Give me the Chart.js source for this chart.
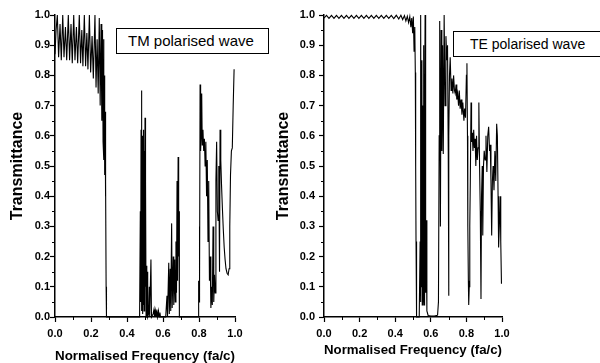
<!DOCTYPE html>
<html lang="en">
<head>
<meta charset="UTF-8">
<title>TM / TE transmittance</title>
<script src="https://cdn.jsdelivr.net/npm/chart.js"></script>
<style>
  body { margin: 0; width: 600px; height: 363px; overflow: hidden; background: #fff; position: relative; font-family: "Liberation Sans", Arial, sans-serif; }
  .pane { position: absolute; top: 0; height: 363px; }
  #leftPane { left: 0; width: 270px; }
  #rightPane { left: 270px; width: 330px; }
  .tag { position: absolute; box-sizing: border-box; border: 1px solid #000; background: #fff; height: 26px; line-height: 24px; white-space: nowrap; color: #000; }
  #tmTag { left: 116px; top: 28px; width: 153px; padding-left: 11px; font-size: 15px; }
  #teTag { left: 453px; top: 31px; width: 152px; padding-left: 16px; font-size: 14px; }
</style>
</head>
<body>
<div class="pane" id="leftPane"><canvas id="tmChart" width="270" height="363"></canvas></div>
<div class="pane" id="rightPane"><canvas id="teChart" width="330" height="363"></canvas></div>
<div class="tag" id="tmTag">TM polarised wave</div>
<div class="tag" id="teTag">TE polarised wave</div>

<script>
// TM polarised wave
const tmFreq = [
  0.000, 0.006, 0.013, 0.020, 0.028, 0.035, 0.043, 0.050, 0.058, 0.065,
  0.074, 0.081, 0.089, 0.096, 0.104, 0.111, 0.119, 0.126, 0.135, 0.142,
  0.149, 0.155, 0.163, 0.170, 0.177, 0.183, 0.191, 0.198, 0.206, 0.213,
  0.222, 0.228, 0.234, 0.240, 0.246, 0.251, 0.256, 0.260, 0.264, 0.267,
  0.270, 0.272, 0.274, 0.276, 0.278, 0.280, 0.282, 0.284, 0.286,
  0.470, 0.474, 0.476, 0.478, 0.480, 0.481, 0.483, 0.485, 0.487, 0.489,
  0.491, 0.493, 0.495, 0.497, 0.499, 0.500, 0.502, 0.504, 0.506, 0.509,
  0.511, 0.513, 0.515, 0.520, 0.524, 0.526, 0.533, 0.536, 0.545, 0.550,
  0.553, 0.558, 0.561, 0.566, 0.569, 0.575, 0.578, 0.583, 0.586,
  0.615, 0.622, 0.625, 0.632, 0.635, 0.640, 0.643, 0.648, 0.651, 0.657,
  0.660, 0.665, 0.668, 0.672, 0.675, 0.678, 0.681, 0.684, 0.687, 0.689, 0.691,
  0.795, 0.798, 0.800, 0.802, 0.804, 0.806, 0.809, 0.812, 0.815, 0.818,
  0.822, 0.826, 0.830, 0.834, 0.838, 0.842, 0.846, 0.850, 0.854, 0.858,
  0.862, 0.866, 0.870, 0.874, 0.878, 0.882, 0.886, 0.890, 0.894, 0.898,
  0.902, 0.906, 0.910, 0.914, 0.917, 0.921, 0.925, 0.930, 0.935, 0.940,
  0.945, 0.950, 0.956, 0.962, 0.967, 0.971, 0.975, 0.980, 0.985, 0.990, 0.995
];
const tmTrans = [
  0.87, 0.95, 1.00, 0.86, 0.97, 0.85, 1.00, 0.86, 0.96, 0.85,
  1.00, 0.85, 0.97, 0.84, 1.00, 0.85, 0.96, 0.84, 1.00, 0.84,
  0.95, 0.83, 1.00, 0.83, 0.94, 0.82, 1.00, 0.81, 0.93, 0.79,
  1.00, 0.76, 0.92, 0.74, 0.99, 0.70, 0.97, 0.65, 0.95, 0.58,
  0.92, 0.52, 0.80, 0.47, 0.68, 0.40, 0.45, 0.10, 0.00,
  0.00, 0.35, 0.05, 0.62, 0.02, 0.75, 0.03, 0.60, 0.01, 0.58,
  0.04, 0.62, 0.02, 0.55, 0.06, 0.66, 0.10, 0.45, 0.00, 0.17,
  0.00, 0.15, 0.00, 0.01, 0.10, 0.00, 0.19, 0.00, 0.01, 0.025,
  0.00, 0.02, 0.00, 0.025, 0.00, 0.02, 0.00, 0.015, 0.00,
  0.00, 0.07, 0.00, 0.18, 0.01, 0.16, 0.02, 0.31, 0.03, 0.20,
  0.04, 0.19, 0.05, 0.25, 0.08, 0.45, 0.12, 0.53, 0.20, 0.35, 0.00,
  0.00, 0.12, 0.05, 0.30, 0.10, 0.77, 0.55, 0.60, 0.74, 0.57,
  0.62, 0.55, 0.59, 0.50, 0.58, 0.40, 0.52, 0.25, 0.45, 0.12,
  0.20, 0.03, 0.10, 0.04, 0.30, 0.05, 0.14, 0.08, 0.45, 0.58,
  0.35, 0.32, 0.50, 0.15, 0.62, 0.52, 0.44, 0.36, 0.29, 0.23,
  0.19, 0.16, 0.145, 0.14, 0.16, 0.30, 0.47, 0.55, 0.56, 0.70, 0.82
];

// TE polarised wave
const teFreq = [
  0.000, 0.014, 0.028, 0.042, 0.056, 0.070, 0.084, 0.098, 0.112, 0.126,
  0.140, 0.154, 0.168, 0.182, 0.196, 0.210, 0.224, 0.238, 0.252, 0.266,
  0.280, 0.294, 0.308, 0.322, 0.336, 0.350, 0.364, 0.378, 0.392, 0.406,
  0.420, 0.432, 0.442, 0.452, 0.460, 0.468, 0.475, 0.482, 0.488, 0.493,
  0.498, 0.502, 0.506, 0.510, 0.513, 0.515, 0.517, 0.520,
  0.535, 0.540, 0.542, 0.544, 0.547, 0.550, 0.552, 0.555, 0.557, 0.560,
  0.562, 0.565, 0.568, 0.571, 0.574, 0.578, 0.585, 0.600, 0.620, 0.638,
  0.643, 0.647, 0.650, 0.654, 0.658, 0.662, 0.666, 0.670, 0.675, 0.680,
  0.685, 0.690, 0.694, 0.698, 0.700, 0.702, 0.705, 0.709, 0.714, 0.719,
  0.724, 0.728, 0.733, 0.737, 0.742, 0.746, 0.751, 0.756, 0.760, 0.765,
  0.770, 0.775, 0.780, 0.786, 0.790, 0.795, 0.800, 0.803, 0.806, 0.808,
  0.811, 0.813, 0.816, 0.819, 0.822, 0.826, 0.829, 0.833, 0.837, 0.841,
  0.845, 0.849, 0.853, 0.857, 0.861, 0.866, 0.870, 0.874, 0.878, 0.882,
  0.885, 0.889, 0.892, 0.896, 0.900, 0.905, 0.910, 0.915, 0.920, 0.925,
  0.930, 0.934, 0.938, 0.942, 0.946, 0.950, 0.955, 0.960, 0.965, 0.970,
  0.974, 0.978, 0.981, 0.985, 0.990, 0.993, 0.997
];
const teTrans = [
  0.990, 0.999, 0.989, 0.999, 0.989, 0.999, 0.989, 0.999, 0.989, 0.999,
  0.989, 0.999, 0.989, 0.999, 0.989, 0.999, 0.989, 0.999, 0.989, 0.999,
  0.989, 0.999, 0.989, 0.999, 0.989, 0.999, 0.989, 0.999, 0.988, 0.999,
  0.987, 0.999, 0.985, 0.998, 0.980, 0.996, 0.975, 0.995, 0.960, 0.990,
  0.940, 0.995, 0.880, 0.960, 0.810, 0.500, 0.250, 0.000,
  0.000, 0.250, 0.05, 1.000, 0.10, 0.85, 0.04, 0.70, 0.05, 0.90,
  0.04, 0.60, 1.000, 0.08, 0.32, 0.02, 0.005, 0.003, 0.003, 0.006,
  0.05, 0.60, 0.98, 0.30, 0.95, 0.55, 0.90, 0.54, 1.00, 0.70,
  0.93, 0.85, 0.90, 0.55, 0.07, 0.60, 0.80, 0.86, 0.75, 0.79,
  0.74, 0.80, 0.75, 0.74, 0.77, 0.72, 0.74, 0.70, 0.75, 0.69,
  0.72, 0.67, 0.71, 0.65, 0.69, 0.66, 0.80, 0.84, 0.60, 0.30,
  0.12, 0.04, 0.10, 0.30, 0.45, 0.71, 0.58, 0.61, 0.55, 0.62,
  0.56, 0.59, 0.50, 0.60, 0.52, 0.56, 0.71, 0.50, 0.35, 0.06,
  0.40, 0.50, 0.27, 0.50, 0.55, 0.52, 0.60, 0.48, 0.60, 0.63,
  0.55, 0.57, 0.45, 0.27, 0.45, 0.50, 0.42, 0.55, 0.45, 0.64,
  0.60, 0.40, 0.23, 0.30, 0.40, 0.25, 0.11
];

// tick positions
const xMinor = [0.1, 0.3, 0.5, 0.7, 0.9];
const yMinor = [0.05, 0.15, 0.25, 0.35, 0.45, 0.55, 0.65, 0.75, 0.85, 0.95];

const FONT = '"Liberation Sans", Arial, sans-serif';

// short ticks between the labelled ones
const minorTicks = {
  id: 'minorTicks',
  afterDraw(chart) {
    const { ctx, scales: { x, y } } = chart;
    ctx.save();
    ctx.strokeStyle = '#000';
    ctx.lineWidth = 1;
    ctx.beginPath();
    xMinor.forEach(v => {
      const px = Math.round(x.getPixelForValue(v)) + 0.5;
      ctx.moveTo(px, x.top);
      ctx.lineTo(px, x.top + 3);
    });
    yMinor.forEach(v => {
      const py = Math.round(y.getPixelForValue(v)) + 0.5;
      ctx.moveTo(y.right, py);
      ctx.lineTo(y.right - 3, py);
    });
    ctx.stroke();
    ctx.restore();
  }
};

function makeChart(id, freq, trans, o) {
  const pts = freq.map((f, i) => ({ x: f, y: trans[i] }));
  return new Chart(document.getElementById(id), {
    type: 'line',
    data: {
      datasets: [{
        data: pts,
        borderColor: '#000',
        borderWidth: 1.1,
        pointRadius: 0,
        tension: 0,
        fill: false,
        clip: 3
      }]
    },
    options: {
      responsive: false,
      animation: false,
      layout: { padding: { left: 0, right: o.padRight, top: 15, bottom: 0 } },
      plugins: { legend: { display: false }, tooltip: { enabled: false } },
      scales: {
        x: {
          type: 'linear', min: 0, max: 1,
          afterFit: s => { s.height = 46; },
          border: { display: true, color: '#000', width: 1.5 },
          grid: { drawOnChartArea: false, drawTicks: true, tickLength: 5, tickColor: '#000', tickWidth: 1.2 },
          ticks: {
            stepSize: 0.2, padding: 5, maxRotation: 0, autoSkip: false, color: '#000',
            font: { family: FONT, size: 11, weight: 'bold' },
            callback: v => v.toFixed(1)
          },
          title: {
            display: true, text: 'Normalised Frequency (fa/c)', color: '#000',
            font: { family: FONT, size: 13.5, weight: 'bold', lineHeight: 1 },
            padding: { top: 0, bottom: o.xTitlePad }
          }
        },
        y: {
          min: 0, max: 1,
          afterFit: s => { s.width = o.yWidth; },
          border: { display: true, color: '#000', width: 1.5 },
          grid: { drawOnChartArea: false, drawTicks: true, tickLength: 5, tickColor: '#000', tickWidth: 1.2 },
          ticks: {
            stepSize: 0.1, padding: o.yTickPad, color: '#000',
            font: { family: FONT, size: 11, weight: 'bold' },
            callback: v => v.toFixed(1)
          },
          title: {
            display: true, text: 'Transmittance', color: '#000',
            font: { family: FONT, size: 16, weight: 'bold', lineHeight: 1 },
            padding: { top: o.yTitlePad, bottom: 0 }
          }
        }
      }
    },
    plugins: [minorTicks]
  });
}

makeChart('tmChart', tmFreq, tmTrans, { padRight: 35, yWidth: 55, yTickPad: 0, yTitlePad: 10, xTitlePad: 0 });
makeChart('teChart', teFreq, teTrans, { padRight: 98, yWidth: 54, yTickPad: 4, yTitlePad: 6, xTitlePad: 6 });
</script>
</body>
</html>
